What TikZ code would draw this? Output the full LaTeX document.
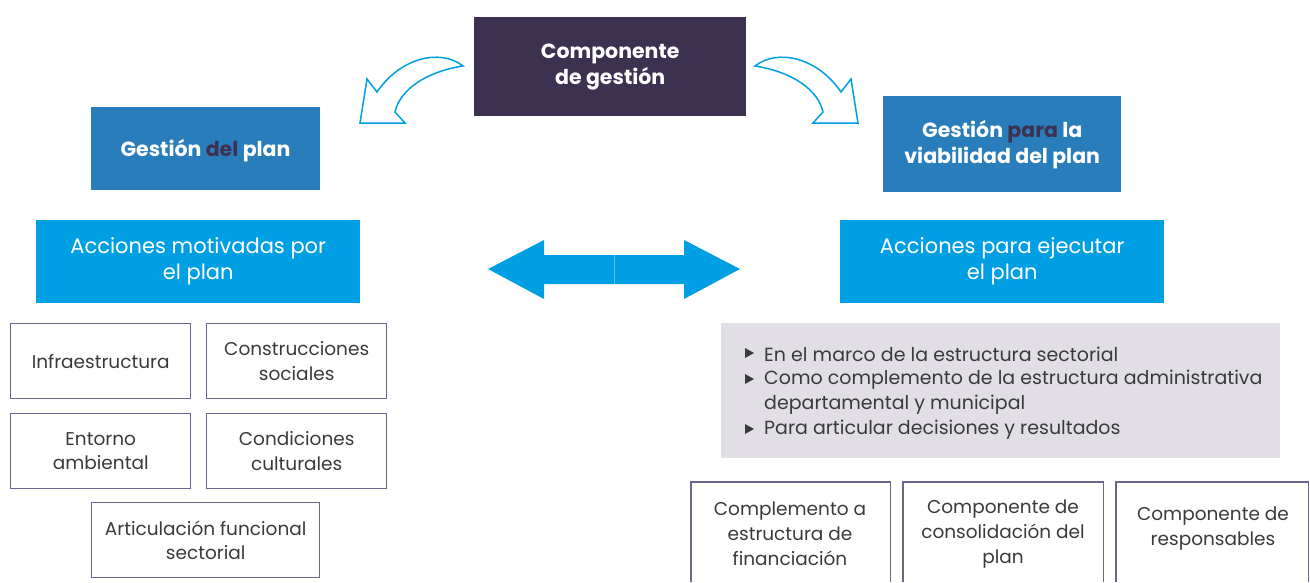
\documentclass[tikz,border=0pt]{standalone}
\usepackage{fontspec}
\setmainfont{Poppins}
\definecolor{darkpurple}{HTML}{3C3150}
\definecolor{midblue}{HTML}{2A7DBB}
\definecolor{cyanblue}{HTML}{009FE3}
\definecolor{boxborder}{HTML}{6E6390}
\definecolor{grayfill}{HTML}{E1DEE5}
\definecolor{txtgray}{HTML}{3A3A3A}
\definecolor{seamline}{HTML}{5BC0EB}
\begin{document}
\begin{tikzpicture}[x=1pt,y=-1pt,
  headbox/.style={fill=#1,inner sep=0pt,anchor=north west,align=center,text=white,font=\fontsize{20.5}{26}\selectfont\bfseries},
  actbox/.style={fill=cyanblue,inner sep=0pt,anchor=north west,align=center,text=white,font=\fontsize{21}{26}\selectfont},
  itembox/.style={draw=boxborder,line width=1.4pt,inner sep=0pt,anchor=north west,align=center,text=txtgray,font=\fontsize{18.5}{24.5}\selectfont},
  openbox/.style={inner sep=0pt,anchor=north west,align=center,text=txtgray,font=\fontsize{18.5}{25}\selectfont},
  bullettext/.style={inner sep=0pt,anchor=west,align=left,text=txtgray,font=\fontsize{19}{25}\selectfont},
  curvearrow/.style={draw=cyanblue,line width=1.5pt,fill=white,line join=miter},
  bulletmark/.style={fill=txtgray}
]
\useasboundingbox (0,0) rectangle (1310,582);
% top component
\node[headbox=darkpurple,minimum width=272pt,minimum height=99pt] (comp) at (474,17) {Componente\\de gestión};
\node[fill=midblue,inner sep=0pt,anchor=north west,minimum width=229pt,minimum height=83pt] (gdel) at (91,107) {};
\node[inner sep=0pt,text=white,font=\fontsize{20.5}{26}\selectfont\bfseries] (gdeltxt) at (205.5,151) {Gestión \textcolor{darkpurple}{del} plan};
\node[headbox=midblue,minimum width=238pt,minimum height=96pt] (gpara) at (883,96) {Gestión \textcolor{darkpurple}{para} la\\viabilidad del plan};
% curved arrows
\draw[curvearrow] (463,66) .. controls (440,48) and (400,58) .. (377,92) -- (367,79) -- (360,123) -- (405,123) -- (395,112) .. controls (400,90) and (425,72) .. (463,66) -- cycle;
\draw[curvearrow] (755,66) .. controls (778,48) and (818,58) .. (841,92) -- (851,79) -- (858,123) -- (813,123) -- (823,112) .. controls (818,90) and (793,72) .. (755,66) -- cycle;
% action boxes
\node[actbox,minimum width=324pt,minimum height=83pt] (accL) at (36,220) {Acciones motivadas por\\el plan};
\node[actbox,minimum width=324pt,minimum height=83pt] (accR) at (840,220) {Acciones para ejecutar\\el plan};
% double arrow
\fill[cyanblue] (488,269) -- (544,240) -- (544,255) -- (684,255) -- (684,240) -- (740,269) -- (684,299) -- (684,284) -- (544,284) -- (544,299) -- cycle;
\draw[seamline,line width=0.6pt] (614,255) -- (614,284);
% left item boxes
\node[itembox,minimum width=180pt,minimum height=75pt] (infra) at (10,323) {Infraestructura};
\node[itembox,minimum width=180pt,minimum height=75pt] (constr) at (206,323) {Construcciones\\sociales};
\node[itembox,minimum width=180pt,minimum height=75pt] (entorno) at (10,413) {Entorno\\ambiental};
\node[itembox,minimum width=180pt,minimum height=75pt] (cond) at (206,413) {Condiciones\\culturales};
\node[itembox,minimum width=228pt,minimum height=75pt] (artic) at (91,502) {Articulación funcional\\sectorial};
% gray box with bullets
\node[fill=grayfill,inner sep=0pt,anchor=north west,minimum width=559pt,minimum height=135pt] (gray) at (721,323) {};
\node[bullettext] (b1) at (764,354) {En el marco de la estructura sectorial};
\node[bullettext] (b2) at (764,392.5) {Como complemento de la estructura administrativa\\departamental y municipal};
\node[bullettext] (b3) at (764,430) {Para articular decisiones y resultados};
\fill[bulletmark] (745,348) -- (745,358) -- (754,353) -- cycle;
\fill[bulletmark] (745,374) -- (745,384) -- (754,379) -- cycle;
\fill[bulletmark] (745,424) -- (745,434) -- (754,429) -- cycle;
% bottom open boxes
\node[openbox,minimum width=199pt,minimum height=100pt] (fin) at (691,482) {};
\node[openbox,minimum width=200pt,minimum height=100pt] (cons) at (903,482) {};
\node[openbox,minimum width=192pt,minimum height=100pt] (resp) at (1116,482) {};
\foreach \n in {fin,cons,resp}{
  \draw[boxborder,line width=1.4pt] (\n.south west) |- (\n.north east) -- (\n.south east);
}
\node[openbox,anchor=center] (fintxt) at (790,534) {Complemento a\\estructura de\\financiación};
\node[openbox,anchor=center] (constxt) at (1003,534) {Componente de\\consolidación del\\plan};
\node[openbox,anchor=center] (resptxt) at (1213,528.5) {Componente de\\responsables};
\end{tikzpicture}
\end{document}
